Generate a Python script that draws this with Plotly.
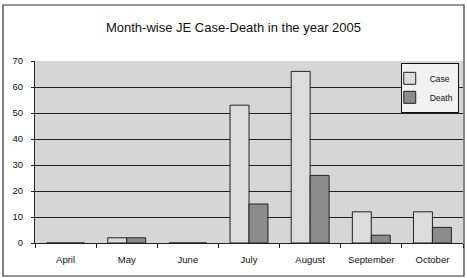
import plotly.graph_objects as go

months = ["April", "May", "June", "July", "August", "September", "October"]
cases = [0, 2, 0, 53, 66, 12, 12]
deaths = [0, 2, 0, 15, 26, 3, 6]
y_ticks = [0, 10, 20, 30, 40, 50, 60, 70]

fig = go.Figure()
fig.add_bar(x=months, y=cases, name="Case",
            marker=dict(color="#dcdcdc", line=dict(color="#222", width=1)))
fig.add_bar(x=months, y=deaths, name="Death",
            marker=dict(color="#8c8c8c", line=dict(color="#222", width=1)))

fig.update_layout(
    width=467, height=278,
    margin=dict(l=35, r=4, t=61, b=35),
    paper_bgcolor="white", plot_bgcolor="#d6d6d6",
    barmode="group", bargap=0.38, bargroupgap=0,
    font=dict(family="Liberation Sans, Arial, sans-serif", size=9.5, color="#111"),
    title=dict(text="Month-wise JE Case-Death in the year 2005", x=0.5, xanchor="center",
               y=1 - 27/278, yanchor="middle", font=dict(size=13, color="#111")),
    legend=dict(x=0.99, y=0.99, xanchor="right", yanchor="top",
                bgcolor="#f2f2f2", bordercolor="#111", borderwidth=1,
                font=dict(size=8.5), itemwidth=30, tracegroupgap=0,
                indentation=-12),
    showlegend=True,
)
fig.update_xaxes(showline=True, linecolor="#222", linewidth=1,
                 ticks="outside", tickson="boundaries", ticklen=4, tickcolor="#222",
                 showgrid=False, ticklabelstandoff=8)
fig.update_yaxes(range=[0, 70], tickvals=y_ticks, showline=True, linecolor="#222",
                 linewidth=1, ticks="outside", ticklen=3, tickcolor="#222",
                 showgrid=True, gridcolor="#222", gridwidth=1, zeroline=False,
                 ticklabelstandoff=6)

fig.add_shape(type="rect", xref="paper", yref="paper",
              x0=(3-35)/428, x1=(464-35)/428, y0=(243-276)/182, y1=(243-5)/182,
              line=dict(color="#333", width=1.2), fillcolor="rgba(0,0,0,0)", layer="below")

fig.write_html("out.html", config={"displayModeBar": False},
               post_script="document.body.style.margin='0';document.body.style.overflow='hidden';")
